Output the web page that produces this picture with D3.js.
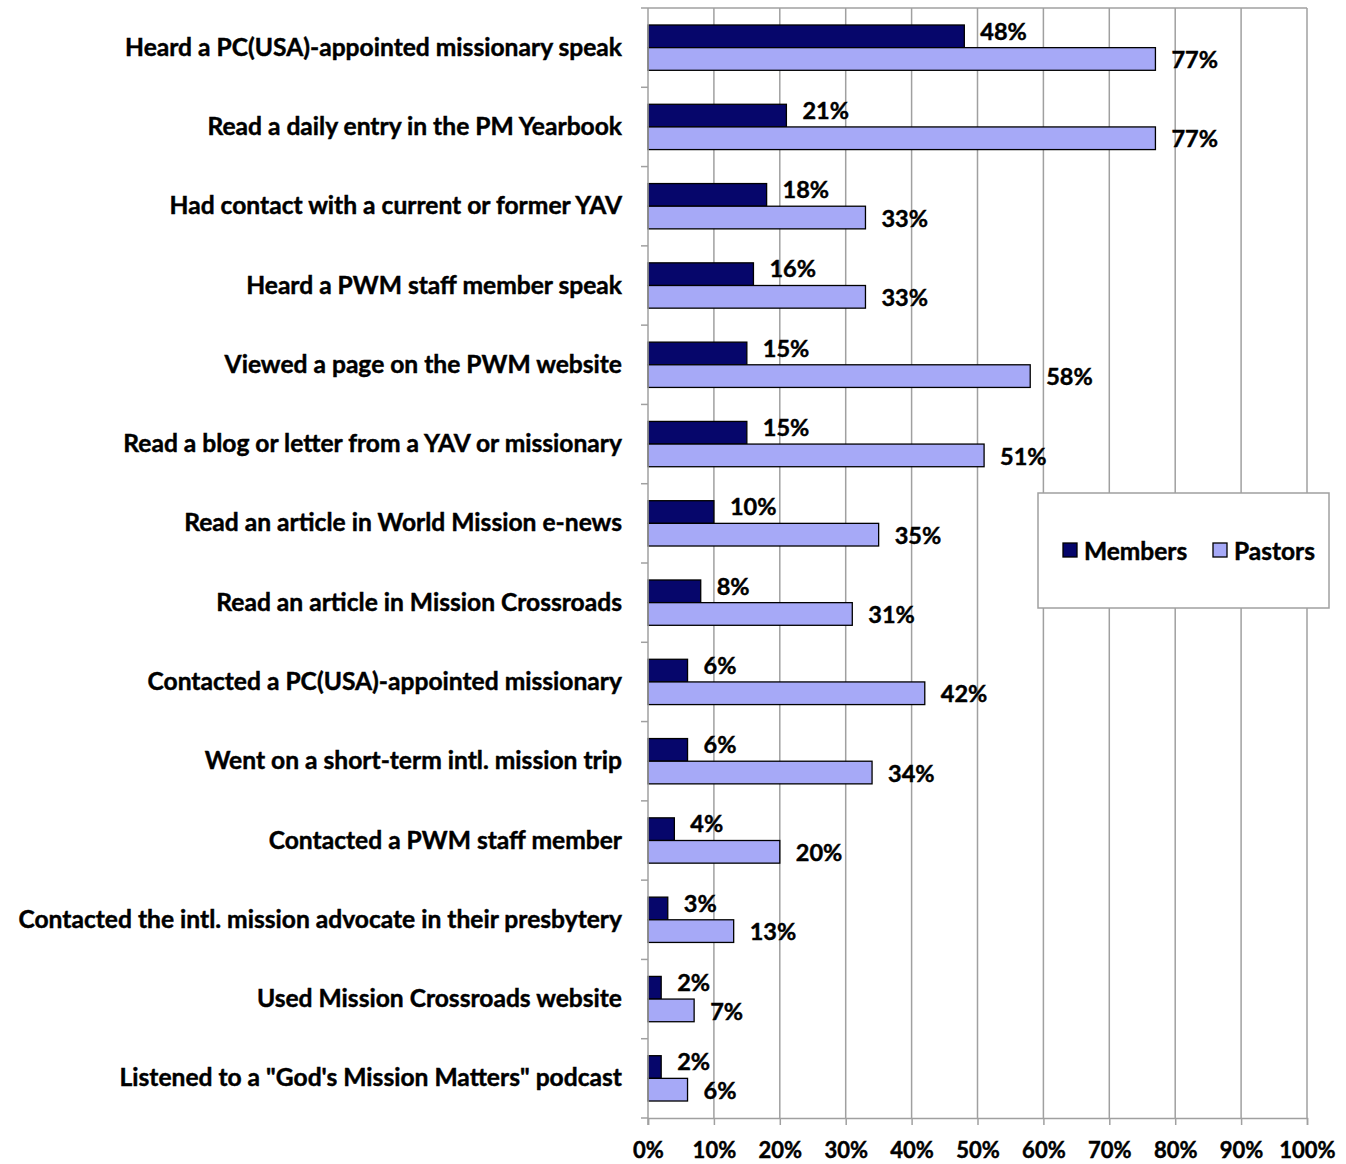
<!DOCTYPE html>
<html>
<head>
<meta charset="utf-8">
<script src="https://cdn.jsdelivr.net/npm/d3@7"></script>
<style>
  html, body { margin: 0; padding: 0; background: #fff; }
  svg text { font-family: Lato, "Open Sans", sans-serif; font-weight: bold; fill: #000; stroke: #000; stroke-width: 0.45px; }
</style>
</head>
<body>
<svg id="chart" width="1346" height="1164"></svg>
<script>
const categories = [
  "Heard a PC(USA)-appointed missionary speak",
  "Read a daily entry in the PM Yearbook",
  "Had contact with a current or former YAV",
  "Heard a PWM staff member speak",
  "Viewed a page on the PWM website",
  "Read a blog or letter from a YAV or missionary",
  "Read an article in World Mission e-news",
  "Read an article in Mission Crossroads",
  "Contacted a PC(USA)-appointed missionary",
  "Went on a short-term intl. mission trip",
  "Contacted a PWM staff member",
  "Contacted the intl. mission advocate in their presbytery",
  "Used Mission Crossroads website",
  "Listened to a \"God's Mission Matters\" podcast"
];
const seriesNames = ["Members", "Pastors"];
const members = [48, 21, 18, 16, 15, 15, 10, 8, 6, 6, 4, 3, 2, 2];
const pastors = [77, 77, 33, 33, 58, 51, 35, 31, 42, 34, 20, 13, 7, 6];
const xTicks = [0, 10, 20, 30, 40, 50, 60, 70, 80, 90, 100];

const colors = { Members: "#06066b", Pastors: "#a6a9f7" };
const gridColor = "#a0a0a0";

const svg = d3.select("#chart");
const pLeft = 648, pRight = 1307, pTop = 8, pBottom = 1118;

const x = d3.scaleLinear().domain([0, 100]).range([pLeft, pRight]);
const y = d3.scaleBand().domain(categories).range([pTop, pBottom]).padding(0);
const sub = d3.scaleBand().domain(seriesNames).range([0, y.bandwidth()])
  .paddingInner(0).paddingOuter(0.75);

// gridlines
svg.append("g").selectAll("line").data(xTicks.filter(d => d > 0)).join("line")
  .attr("x1", d => x(d)).attr("x2", d => x(d))
  .attr("y1", pTop).attr("y2", pBottom)
  .attr("stroke", gridColor).attr("stroke-width", 1.5);
// top border
svg.append("line").attr("x1", pLeft).attr("x2", pRight).attr("y1", pTop).attr("y2", pTop)
  .attr("stroke", gridColor).attr("stroke-width", 1.5);

// bars
const rows = categories.map((c, i) => ({ c, Members: members[i], Pastors: pastors[i] }));
const g = svg.append("g");
rows.forEach(r => {
  seriesNames.forEach(s => {
    g.append("rect")
      .attr("x", x(0))
      .attr("y", y(r.c) + sub(s))
      .attr("width", x(r[s]) - x(0))
      .attr("height", sub.bandwidth())
      .attr("fill", colors[s])
      .attr("stroke", "#000").attr("stroke-width", 1.3);
    g.append("text")
      .attr("x", x(r[s]) + 16)
      .attr("y", y(r.c) + sub(s) + sub.bandwidth() / 2 + (s === "Members" ? -5 : 1))
      .attr("dy", "0.35em")
      .attr("font-size", 23.5)
      .text(r[s] + "%");
  });
});

// left axis (category labels)
const yAxis = svg.append("g").attr("transform", `translate(${pLeft},0)`)
  .call(d3.axisLeft(y).tickSize(0).tickPadding(26));
yAxis.select(".domain").remove();
yAxis.selectAll("text").attr("font-size", 24.6).attr("font-family", null).attr("dy", "0.33em");
// left axis line and ticks at band boundaries
svg.append("line").attr("x1", pLeft).attr("x2", pLeft).attr("y1", pTop).attr("y2", pBottom + 7)
  .attr("stroke", gridColor).attr("stroke-width", 1.5);
const boundaries = categories.map(c => y(c)).concat([pBottom]);
svg.append("g").selectAll("line").data(boundaries).join("line")
  .attr("x1", pLeft - 7).attr("x2", pLeft).attr("y1", d => d).attr("y2", d => d)
  .attr("stroke", gridColor).attr("stroke-width", 1.5);

// bottom axis
const xAxis = svg.append("g").attr("transform", `translate(0,${pBottom})`)
  .call(d3.axisBottom(x).tickValues(xTicks).tickSize(7).tickPadding(17).tickFormat(d => d + "%"));
xAxis.select(".domain").attr("stroke", gridColor).attr("stroke-width", 1.5);
xAxis.selectAll(".tick line").attr("stroke", gridColor).attr("stroke-width", 1.5);
xAxis.selectAll("text").attr("font-size", 22).attr("font-family", null);

// legend
const lg = svg.append("g");
lg.append("rect").attr("x", 1038).attr("y", 493).attr("width", 291).attr("height", 115)
  .attr("fill", "#fff").attr("stroke", gridColor).attr("stroke-width", 1.5);
const legendX = { Members: 1063, Pastors: 1213 };
seriesNames.forEach(s => {
  lg.append("rect").attr("x", legendX[s]).attr("y", 543).attr("width", 14).attr("height", 14)
    .attr("fill", colors[s]).attr("stroke", "#000").attr("stroke-width", 1.3);
  lg.append("text").attr("x", legendX[s] + 21).attr("y", 551).attr("dy", "0.35em")
    .attr("font-size", 24.5).text(s);
});
</script>
</body>
</html>
